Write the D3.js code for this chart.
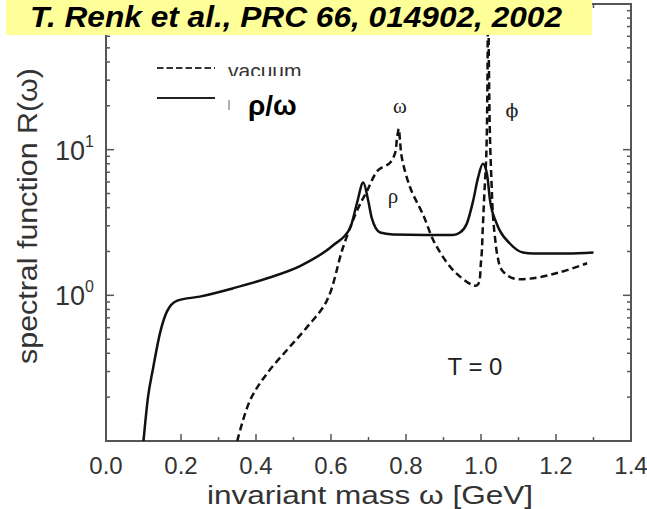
<!DOCTYPE html>
<html><head><meta charset="utf-8">
<script src="https://cdn.jsdelivr.net/npm/d3@7"></script>
<style>body{margin:0;background:#fff}svg{display:block}</style>
</head><body>
<svg id="c" width="647" height="509"></svg>
<script>
// ---- data ----
const mediumX = [0.100,0.112,0.126,0.144,0.162,0.19,0.25,0.34,0.43,0.52,0.605,0.651,0.669,0.686,0.699,0.709,0.731,0.765,0.85,0.925,0.944,0.962,0.979,0.992,1.005,1.016,1.024,1.042,1.077,1.112,1.139,1.23,1.30];
const mediumY = [0.1,0.2,0.32,0.55,0.77,0.92,0.98,1.12,1.31,1.6,2.2,2.9,4.27,5.94,4.5,3.37,2.7,2.62,2.6,2.6,2.7,3.1,4.45,6.4,8.0,6.8,4.5,3.1,2.27,1.97,1.94,1.94,1.97];
const vacuumX = [0.35,0.384,0.429,0.482,0.535,0.589,0.632,0.669,0.696,0.725,0.757,0.771,0.776,0.781,0.784,0.789,0.811,0.845,0.88,0.935,0.989,1.000,1.005,1.009,1.014,1.017,1.019,1.021,1.024,1.028,1.032,1.038,1.045,1.055,1.085,1.139,1.21,1.283];
const vacuumY = [0.1,0.19,0.29,0.42,0.6,0.92,2.13,3.8,5.2,7.2,8.1,9.5,12,13.9,11.5,8.8,5.5,3.6,2.2,1.41,1.17,1.7,3.0,5.0,9,25,200,40,12,6,3.5,2.4,1.8,1.5,1.31,1.31,1.44,1.66];
const xTicks = [0.0,0.2,0.4,0.6,0.8,1.0,1.2,1.4];
const yTicks = [0.1,1,10,100];
const legendLabels = ["vacuum","ρ/ω"];
const titleText = "T. Renk et al., PRC 66, 014902, 2002";

const svg = d3.select("#c");
const L=106,R=631,T=4,B=441;
const x = d3.scaleLinear().domain([0,1.4]).range([L,R]);
const y = d3.scaleLog().domain([0.1,100]).range([B,T]);
const axisCol="#555";

svg.append("defs").append("clipPath").attr("id","clip").append("rect")
  .attr("x",L).attr("y",T).attr("width",R-L).attr("height",B-T);

// frame
svg.append("rect").attr("x",L).attr("y",T).attr("width",R-L).attr("height",B-T)
  .attr("fill","none").attr("stroke",axisCol).attr("stroke-width",2);

// x ticks (inward) bottom & top
const xMinor = d3.range(0,15).map(i=>i/10);
const g = svg.append("g").attr("stroke",axisCol).attr("stroke-width",1.5);
xMinor.forEach((v,i)=>{
  const len = i%2===0?7:4;
  g.append("line").attr("x1",x(v)).attr("x2",x(v)).attr("y1",B).attr("y2",B-len);
  g.append("line").attr("x1",x(v)).attr("x2",x(v)).attr("y1",T).attr("y2",T+len);
});
// y ticks log, left & right
const yAll=[];
[0.1,1,10].forEach(d=>{for(let k=1;k<10;k++) yAll.push({v:d*k,major:k===1});});
yAll.push({v:100,major:true});
yAll.forEach(t=>{
  const len=t.major?8:4;
  g.append("line").attr("x1",L).attr("x2",L+len).attr("y1",y(t.v)).attr("y2",y(t.v));
  g.append("line").attr("x1",R).attr("x2",R-len).attr("y1",y(t.v)).attr("y2",y(t.v));
});

// tick labels
const font="'Liberation Sans', Arial, sans-serif";
xTicks.forEach(v=>{
  svg.append("text").attr("x",x(v)).attr("y",474).attr("text-anchor","middle")
    .attr("font-family",font).attr("font-size",24).attr("fill","#333").text(v.toFixed(1));
});
yTicks.filter(v=>v===1||v===10).forEach(v=>{
  const t=svg.append("text").attr("x",94).attr("y",y(v)+10).attr("text-anchor","end")
    .attr("font-family",font).attr("font-size",27).attr("fill","#333");
  t.append("tspan").text("10");
  t.append("tspan").attr("font-size",16).attr("dy",-13).text(Math.round(Math.log10(v)));
});

// axis titles
svg.append("text").attr("x",370).attr("y",504).attr("text-anchor","middle")
  .attr("font-family",font).attr("font-size",26).attr("fill","#333")
  .attr("textLength",326).attr("lengthAdjust","spacingAndGlyphs").text("invariant mass ω [GeV]");
svg.append("text").attr("transform","translate(37,216) rotate(-90)").attr("text-anchor","middle")
  .attr("font-family",font).attr("font-size",27).attr("fill","#333")
  .attr("textLength",296).attr("lengthAdjust","spacingAndGlyphs").text("spectral function R(ω)");

// curves
const line = d3.line().x(d=>x(d[0])).y(d=>y(d[1])).curve(d3.curveMonotoneX);
const plot = svg.append("g").attr("clip-path","url(#clip)");
plot.append("path").datum(mediumX.map((v,i)=>[v,mediumY[i]])).attr("d",line)
  .attr("fill","none").attr("stroke","#111").attr("stroke-width",2.5);
plot.append("path").datum(vacuumX.map((v,i)=>[v,vacuumY[i]])).attr("d",d3.line().x(d=>x(d[0])).y(d=>y(d[1])).curve(d3.curveCatmullRom))
  .attr("fill","none").attr("stroke","#111").attr("stroke-width",2.5).attr("stroke-dasharray","7,4");

// annotations
const serif="'Liberation Serif','DejaVu Serif',serif";
svg.append("text").attr("x",400).attr("y",113).attr("text-anchor","middle").attr("font-family",serif).attr("font-size",21).attr("fill","#222").text("ω");
svg.append("text").attr("x",393).attr("y",203).attr("text-anchor","middle").attr("font-family",serif).attr("font-size",21).attr("fill","#222").text("ρ");
svg.append("text").attr("x",512).attr("y",117).attr("text-anchor","middle").attr("font-family","'DejaVu Serif',serif").attr("font-size",19).attr("fill","#222").text("ϕ");
svg.append("text").attr("x",475).attr("y",375).attr("text-anchor","middle").attr("font-family",font).attr("font-size",24).attr("fill","#222").text("T = 0");

// legend
svg.append("line").attr("x1",157).attr("x2",215).attr("y1",68).attr("y2",68).attr("stroke","#333").attr("stroke-width",1.8).attr("stroke-dasharray","6.5,3");
svg.append("text").attr("x",228).attr("y",78).attr("font-family",font).attr("font-size",21).attr("fill","#333").text(legendLabels[0]);
svg.append("line").attr("x1",157).attr("x2",215).attr("y1",98).attr("y2",98).attr("stroke","#222").attr("stroke-width",2.2);
svg.append("rect").attr("x",231).attr("y",76).attr("width",95).attr("height",49).attr("fill","#fff");
svg.append("line").attr("x1",229).attr("x2",229).attr("y1",100).attr("y2",110).attr("stroke","#999").attr("stroke-width",1.5);
svg.append("text").attr("x",248).attr("y",115).attr("font-family",font).attr("font-weight","bold").attr("font-size",28).attr("fill","#000").text(legendLabels[1]);

// title banner
svg.append("rect").attr("x",6).attr("y",0).attr("width",586).attr("height",35).attr("fill","#FFFF99");
svg.append("text").attr("x",30).attr("y",26.5).attr("font-family",font).attr("font-weight","bold").attr("font-style","italic")
  .attr("font-size",29).attr("fill","#000").attr("textLength",532).attr("lengthAdjust","spacingAndGlyphs").text(titleText);
</script>
</body></html>
